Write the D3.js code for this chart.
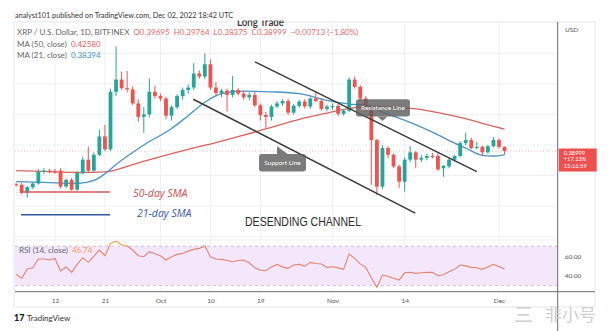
<!DOCTYPE html>
<html>
<head>
<meta charset="utf-8">
<script src="https://cdn.jsdelivr.net/npm/d3@7"></script>
<style>
  html, body { margin: 0; padding: 0; background: #fff; }
  svg { display: block; font-family: Lato, "Open Sans", sans-serif; }
  .pre { white-space: pre; }
</style>
</head>
<body>
<svg id="chart" width="613" height="331"></svg>
<script>
// ---- XRP/USD daily candles, Sep 05 – Dec 02 2022 ----
const firstDay = "2022-09-05";
const opens  = [0.336,0.335,0.322,0.331,0.337,0.356,0.358,0.357,0.358,0.332,0.343,0.327,0.354,0.376,0.358,0.384,0.414,0.393,0.487,0.507,0.493,0.491,0.468,0.446,0.450,0.487,0.480,0.476,0.448,0.462,0.480,0.490,0.494,0.517,0.512,0.532,0.494,0.485,0.489,0.482,0.490,0.484,0.478,0.482,0.465,0.449,0.446,0.463,0.468,0.472,0.453,0.464,0.471,0.463,0.476,0.472,0.459,0.463,0.464,0.451,0.456,0.507,0.495,0.476,0.462,0.408,0.332,0.395,0.384,0.365,0.340,0.376,0.388,0.376,0.379,0.382,0.382,0.362,0.365,0.376,0.382,0.403,0.408,0.396,0.397,0.388,0.398,0.408,0.39695];
const highs  = [0.338,0.338,0.333,0.339,0.361,0.362,0.361,0.361,0.362,0.345,0.346,0.357,0.381,0.397,0.388,0.425,0.433,0.492,0.561,0.520,0.521,0.496,0.475,0.462,0.509,0.497,0.484,0.479,0.465,0.483,0.494,0.499,0.534,0.522,0.550,0.540,0.503,0.492,0.492,0.513,0.493,0.489,0.486,0.487,0.468,0.454,0.466,0.472,0.475,0.476,0.467,0.474,0.475,0.479,0.486,0.476,0.466,0.468,0.467,0.459,0.510,0.512,0.498,0.480,0.466,0.410,0.400,0.398,0.386,0.368,0.380,0.398,0.390,0.384,0.386,0.387,0.386,0.367,0.378,0.384,0.406,0.420,0.412,0.405,0.399,0.400,0.413,0.411,0.39764];
const lows   = [0.332,0.319,0.314,0.328,0.335,0.353,0.354,0.353,0.329,0.330,0.325,0.325,0.352,0.355,0.356,0.382,0.390,0.390,0.480,0.490,0.486,0.465,0.438,0.420,0.445,0.476,0.472,0.442,0.440,0.459,0.474,0.484,0.490,0.508,0.508,0.490,0.480,0.478,0.455,0.478,0.481,0.474,0.473,0.462,0.440,0.428,0.440,0.460,0.464,0.449,0.450,0.461,0.460,0.459,0.470,0.456,0.455,0.458,0.447,0.448,0.454,0.492,0.472,0.456,0.335,0.318,0.328,0.378,0.362,0.330,0.324,0.372,0.362,0.372,0.375,0.378,0.358,0.348,0.362,0.373,0.380,0.400,0.393,0.393,0.382,0.386,0.396,0.394,0.38375];
const closes = [0.335,0.322,0.331,0.337,0.356,0.358,0.357,0.355,0.332,0.343,0.327,0.354,0.376,0.358,0.384,0.414,0.393,0.487,0.507,0.493,0.491,0.468,0.446,0.450,0.487,0.480,0.476,0.448,0.462,0.480,0.490,0.494,0.517,0.512,0.532,0.494,0.485,0.489,0.482,0.490,0.484,0.478,0.482,0.465,0.449,0.446,0.463,0.468,0.472,0.453,0.464,0.471,0.463,0.476,0.472,0.459,0.463,0.464,0.451,0.456,0.507,0.495,0.476,0.462,0.408,0.332,0.395,0.384,0.365,0.340,0.376,0.388,0.376,0.379,0.382,0.381,0.360,0.366,0.376,0.382,0.403,0.408,0.395,0.397,0.388,0.398,0.408,0.397,0.38999];

// Moving averages (sampled points)
const ma50Dates  = ["2022-09-05","2022-09-10","2022-09-16","2022-09-21","2022-09-24","2022-09-26","2022-10-01","2022-10-06","2022-10-11","2022-10-16","2022-10-21","2022-10-26","2022-10-31","2022-11-04","2022-11-08","2022-11-12","2022-11-16","2022-11-20","2022-11-25","2022-11-29","2022-12-02"];
const ma50Values = [0.358,0.357,0.355,0.356,0.362,0.368,0.381,0.393,0.404,0.416,0.429,0.442,0.452,0.460,0.463,0.462,0.459,0.453,0.443,0.433,0.4258];
const ma21Dates  = ["2022-09-05","2022-09-10","2022-09-16","2022-09-19","2022-09-21","2022-09-23","2022-09-28","2022-10-03","2022-10-06","2022-10-09","2022-10-12","2022-10-16","2022-10-21","2022-10-26","2022-10-31","2022-11-04","2022-11-07","2022-11-10","2022-11-15","2022-11-19","2022-11-23","2022-11-25","2022-11-28","2022-11-30","2022-12-02"];
const ma21Values = [0.340,0.339,0.337,0.342,0.353,0.368,0.400,0.427,0.448,0.470,0.484,0.488,0.487,0.484,0.473,0.467,0.465,0.454,0.437,0.421,0.403,0.395,0.383,0.382,0.38394];

// RSI (14, close), one value per candle
const rsiValues = [41.4,37.4,46.8,48.1,57,57,56,57.6,44.8,48.8,43.4,51.5,58.3,53.6,60,66.1,60.3,72.9,75.2,71.2,70.2,66.1,60.3,59.3,64.4,62.3,60.3,56,59.3,61.7,62.7,65,66.8,67.8,70.2,59.3,57,56.6,55.5,54.2,55.5,56,53.2,48,45.5,45.1,49,51.5,49,47.5,51,51.5,49.8,53.6,52.5,51.9,48.5,49.1,48,46.5,62,57.6,52,48.5,38,28.2,40.7,39.5,37.5,35.6,43,43.5,42.4,43,43.4,43.4,40,41,44,46.5,50.9,50,48.5,48.2,46.5,49,51.5,49.5,46.74];

// Axis ticks
const priceTicks = [0.55, 0.50, 0.45, 0.40, 0.35, 0.30, 0.25];
const rsiTicks = [60, 40];
const rsiBands = [70, 30];
const timeTickDates  = ["2022-09-12","2022-09-21","2022-10-01","2022-10-10","2022-10-19","2022-11-01","2022-11-14","2022-12-01"];
const timeTickLabels = ["12","21","Oct","10","19","Nov","14","Dec"];

// Drawn channel (date, price) endpoints
const resistanceLine = [["2022-10-18T01:00", 0.536], ["2022-11-27T00:00", 0.3565]];
const supportLine    = [["2022-10-06T22:00", 0.4748], ["2022-11-15T22:00", 0.2886]];

// ---- layout ----
const svg = d3.select("#chart");
const parse = d3.utcParse("%Y-%m-%d");
const parseT = d3.utcParse("%Y-%m-%dT%H:%M");
const days = d3.utcDay.range(parse(firstDay), d3.utcDay.offset(parse(firstDay), opens.length));
const candles = days.map((d, i) => ({ d, o: opens[i], h: highs[i], l: lows[i], c: closes[i] }));

const pL = 15, pR = 557.7, pT = 22, pSplit = 240, pB = 291.7, fR = 595, fB = 307;

const x = d3.scaleUtc().domain([parse("2022-09-12"), parse("2022-12-01")]).range([55, 499]);
const y = d3.scaleLinear().domain([0.25, 0.55]).range([236.7, 53.3]);
const yr = d3.scaleLinear().domain([30, 70]).range([285.6, 246.2]);

const UP = "#26a69a", DOWN = "#ef5350";

const defs = svg.append("defs");
defs.append("clipPath").attr("id", "mainClip").append("rect")
  .attr("x", pL).attr("y", pT).attr("width", pR - pL).attr("height", pSplit - pT);
defs.append("clipPath").attr("id", "rsiClip").append("rect")
  .attr("x", pL).attr("y", pSplit).attr("width", pR - pL).attr("height", pB - pSplit);
defs.append("clipPath").attr("id", "axisClip").append("rect")
  .attr("x", pR).attr("y", pT).attr("width", fR - pR).attr("height", pSplit - pT);
defs.append("clipPath").attr("id", "titleClip").append("rect")
  .attr("x", 0).attr("y", 20.4).attr("width", 613).attr("height", 40);
defs.append("clipPath").attr("id", "rsiHigh").append("rect")
  .attr("x", pL).attr("y", pSplit).attr("width", pR - pL).attr("height", yr(70) - pSplit);

// frame
svg.append("rect").attr("x", pL - 1).attr("y", pT).attr("width", fR - pL + 1).attr("height", fB - pT)
  .attr("fill", "none").attr("stroke", "#e6e8ee").attr("stroke-width", 1);

// grid
const grid = svg.append("g");
grid.selectAll("line.v").data(timeTickDates).join("line")
  .attr("x1", d => x(parse(d))).attr("x2", d => x(parse(d)))
  .attr("y1", pT).attr("y2", pB).attr("stroke", "#eef0f4");
grid.selectAll("line.h").data(priceTicks).join("line")
  .attr("x1", pL).attr("x2", pR).attr("y1", d => y(d)).attr("y2", d => y(d)).attr("stroke", "#eef0f4");

// ---- main pane ----
const main = svg.append("g").attr("clip-path", "url(#mainClip)");

// last price line
const lastClose = closes[closes.length - 1];
main.append("line").attr("x1", pL).attr("x2", pR)
  .attr("y1", y(lastClose)).attr("y2", y(lastClose))
  .attr("stroke", DOWN).attr("stroke-opacity", 0.35).attr("stroke-dasharray", "1,2");

const maLine = d3.line().x(d => x(d[0])).y(d => y(d[1])).curve(d3.curveMonotoneX);
main.append("path").datum(ma50Dates.map((d, i) => [parse(d), ma50Values[i]]))
  .attr("d", maLine).attr("fill", "none").attr("stroke", "#d9625d").attr("stroke-width", 1.3);
main.append("path").datum(ma21Dates.map((d, i) => [parse(d), ma21Values[i]]))
  .attr("d", maLine).attr("fill", "none").attr("stroke", "#4b93c9").attr("stroke-width", 1.3);

const bodyW = 3.8;
const cg = main.append("g").selectAll("g").data(candles).join("g");
cg.append("line")
  .attr("x1", d => x(d.d)).attr("x2", d => x(d.d))
  .attr("y1", d => y(d.h)).attr("y2", d => y(d.l))
  .attr("stroke", d => d.c >= d.o ? UP : DOWN).attr("stroke-width", 1);
cg.append("rect")
  .attr("x", d => x(d.d) - bodyW / 2).attr("width", bodyW)
  .attr("y", d => y(Math.max(d.o, d.c)))
  .attr("height", d => Math.max(1, Math.abs(y(d.o) - y(d.c))))
  .attr("fill", d => d.c >= d.o ? UP : DOWN);

// channel lines
const chan = d3.line().x(d => x(parseT(d[0]))).y(d => y(d[1]));
[resistanceLine, supportLine].forEach(l => {
  main.append("path").attr("d", chan(l)).attr("fill", "none").attr("stroke", "#3a3a3a").attr("stroke-width", 1.5);
});

// SMA key
const keyG = main.append("g");
keyG.append("line").attr("x1", 20).attr("x2", 110).attr("y1", 192).attr("y2", 192).attr("stroke", "#d9585a").attr("stroke-width", 1.5);
keyG.append("line").attr("x1", 21).attr("x2", 110).attr("y1", 214.7).attr("y2", 214.7).attr("stroke", "#3458a4").attr("stroke-width", 1.5);
keyG.append("text").attr("x", 133).attr("y", 197).attr("font-size", 10.5).attr("font-style", "italic")
  .attr("font-family", "'Open Sans', sans-serif").attr("fill", "#cf4d52").text("50-day SMA");
keyG.append("text").attr("x", 137).attr("y", 216.8).attr("font-size", 10.5).attr("font-style", "italic")
  .attr("font-family", "'Open Sans', sans-serif").attr("fill", "#3a5aa8").text("21-day SMA");
keyG.append("text").attr("x", 245).attr("y", 226).attr("font-size", 13)
  .attr("font-family", "'Liberation Sans', sans-serif").attr("fill", "#2a2a2a")
  .attr("textLength", 116).attr("lengthAdjust", "spacingAndGlyphs").text("DESENDING CHANNEL");

// callouts
function callout(g, anchorDate, anchorPrice, box, pointer, label) {
  const ax = x(parse(anchorDate)), ay = y(anchorPrice);
  const cgp = g.append("g").attr("opacity", 0.82);
  cgp.append("rect").attr("x", ax + box[0]).attr("y", ay + box[1]).attr("width", box[2]).attr("height", box[3])
    .attr("rx", 3).attr("fill", "#5f5f5f");
  cgp.append("path").attr("d", d3.line()(pointer.map(p => [ax + p[0], ay + p[1]]))).attr("fill", "#5f5f5f");
  g.append("text").attr("x", ax + box[0] + box[2] / 2).attr("y", ay + box[1] + box[3] / 2 + 2.3)
    .attr("text-anchor", "middle").attr("font-size", 6.5).attr("fill", "#fff").text(label);
}
callout(main, "2022-10-22", 0.398, [-18, 7.7, 47, 17.7], [[0, 0], [0, 8], [11, 8]], "Support Line");
callout(main, "2022-11-10", 0.437, [-26.5, -23.2, 54, 17.4], [[-5, -6], [5, -6], [0, -1.5]], "Resistance Line");

// ---- RSI pane ----
const rsiG = svg.append("g").attr("clip-path", "url(#rsiClip)");
rsiG.append("rect").attr("x", pL).attr("width", pR - pL)
  .attr("y", yr(rsiBands[0])).attr("height", yr(rsiBands[1]) - yr(rsiBands[0])).attr("fill", "#f4e7fb");
rsiG.selectAll("line.band").data(rsiBands).join("line")
  .attr("x1", pL).attr("x2", pR).attr("y1", d => yr(d)).attr("y2", d => yr(d))
  .attr("stroke", "#c2aed2").attr("stroke-dasharray", "3,3").attr("stroke-width", 0.8);
const rsiLine = d3.line().x((d, i) => x(days[i])).y(d => yr(d));
rsiG.append("path").datum(rsiValues).attr("d", rsiLine).attr("fill", "none")
  .attr("stroke", "#e3846f").attr("stroke-width", 1.1);
rsiG.append("g").attr("clip-path", "url(#rsiHigh)").append("path").datum(rsiValues).attr("d", rsiLine)
  .attr("fill", "none").attr("stroke", "#ecbd5f").attr("stroke-width", 1.1);
svg.append("line").attr("x1", pL).attr("x2", pR).attr("y1", pSplit).attr("y2", pSplit).attr("stroke", "#eceef2");

// ---- axes ----
const priceAxis = d3.axisRight(y).tickValues(priceTicks).tickSize(0).tickPadding(7).tickFormat(d3.format(".5f"));
const pa = svg.append("g").attr("transform", `translate(${pR},0)`).attr("clip-path", "url(#axisClip)").call(priceAxis);
const rsiAxis = d3.axisRight(yr).tickValues(rsiTicks).tickSize(0).tickPadding(7).tickFormat(d3.format(".2f"));
const ra = svg.append("g").attr("transform", `translate(${pR},0)`).call(rsiAxis);
const timeAxis = d3.axisBottom(x).tickValues(timeTickDates.map(parse)).tickSize(0).tickPadding(7)
  .tickFormat((d, i) => timeTickLabels[i]);
const ta = svg.append("g").attr("transform", `translate(0,${pB})`).call(timeAxis);
[pa, ra, ta].forEach(g => {
  g.select(".domain").remove();
  g.selectAll("text").attr("font-size", 6.5).attr("fill", "#555").attr("font-family", "Lato, sans-serif");
});
svg.append("text").attr("x", 565).attr("y", 32).attr("font-size", 6.5).attr("fill", "#555").text("USD");

svg.append("line").attr("x1", pR).attr("x2", pR).attr("y1", pT).attr("y2", 331).attr("stroke", "#6a6a6a").attr("stroke-width", 1);
svg.append("line").attr("x1", pL).attr("x2", fR).attr("y1", pB).attr("y2", pB).attr("stroke", "#6a6a6a").attr("stroke-width", 1);

// last price tag
const lastY = y(lastClose);
const tag = svg.append("g");
tag.append("rect").attr("x", pR + 1).attr("y", lastY - 2.6).attr("width", 38).attr("height", 23).attr("fill", "#ef4f4f");
["0.38999", "+17.13%", "15:16:59"].forEach((t, i) => {
  tag.append("text").attr("x", pR + 6).attr("y", lastY + 3.4 + i * 6.6).attr("font-size", 5.8).attr("fill", "#fff").text(t);
});

// ---- texts ----
svg.append("text").attr("x", 15).attr("y", 17.5).attr("font-size", 7.3).attr("fill", "#333")
  .text("analyst101 published on TradingView.com, Dec 02, 2022 18:42 UTC");

svg.append("text").attr("x", 237).attr("y", 25.6).attr("font-size", 11).attr("font-weight", 600)
  .attr("clip-path", "url(#titleClip)").attr("fill", "#333")
  .attr("textLength", 47).attr("lengthAdjust", "spacingAndGlyphs").text("Long Trade");

const lg = svg.append("g").attr("font-size", 8);
const l1 = lg.append("text").attr("class", "pre").attr("x", 17).attr("y", 35.4).attr("fill", "#666");
l1.append("tspan").text("XRP / U.S. Dollar, 1D, BITFINEX  ");
l1.append("tspan").attr("fill", "#e46a6a").text("O0.39695  H0.39764  L0.38375  C0.38999  −0.00713 (−1.80%)");
const l2 = lg.append("text").attr("class", "pre").attr("x", 17).attr("y", 47).attr("fill", "#666");
l2.append("tspan").text("MA (50, close)  ");
l2.append("tspan").attr("fill", "#e0605c").text(d3.format(".5f")(ma50Values[ma50Values.length - 1]));
const l3 = lg.append("text").attr("class", "pre").attr("x", 17).attr("y", 58.3).attr("fill", "#666");
l3.append("tspan").text("MA (21, close)  ");
l3.append("tspan").attr("fill", "#3d93c9").text(d3.format(".5f")(ma21Values[ma21Values.length - 1]));
const l4 = lg.append("text").attr("class", "pre").attr("x", 19).attr("y", 252.5).attr("fill", "#666");
l4.append("tspan").text("RSI (14, close)  ");
l4.append("tspan").attr("fill", "#f0a050").text(d3.format(".2f")(rsiValues[rsiValues.length - 1]));

// footer
svg.append("text").attr("x", 14).attr("y", 321).attr("font-size", 9).attr("font-weight", 900).attr("fill", "#131722").text("17");
svg.append("text").attr("x", 27).attr("y", 321).attr("font-size", 8).attr("fill", "#333").text("TradingView");

// watermark
const wm = svg.append("g").attr("fill", "#cfcfcf").attr("font-family", "'Noto Sans CJK SC', sans-serif");
wm.append("text").attr("x", 514).attr("y", 322).attr("font-size", 19).text("三");
wm.append("text").attr("x", 545).attr("y", 321).attr("font-size", 17).text("非小号");
</script>
</body>
</html>
